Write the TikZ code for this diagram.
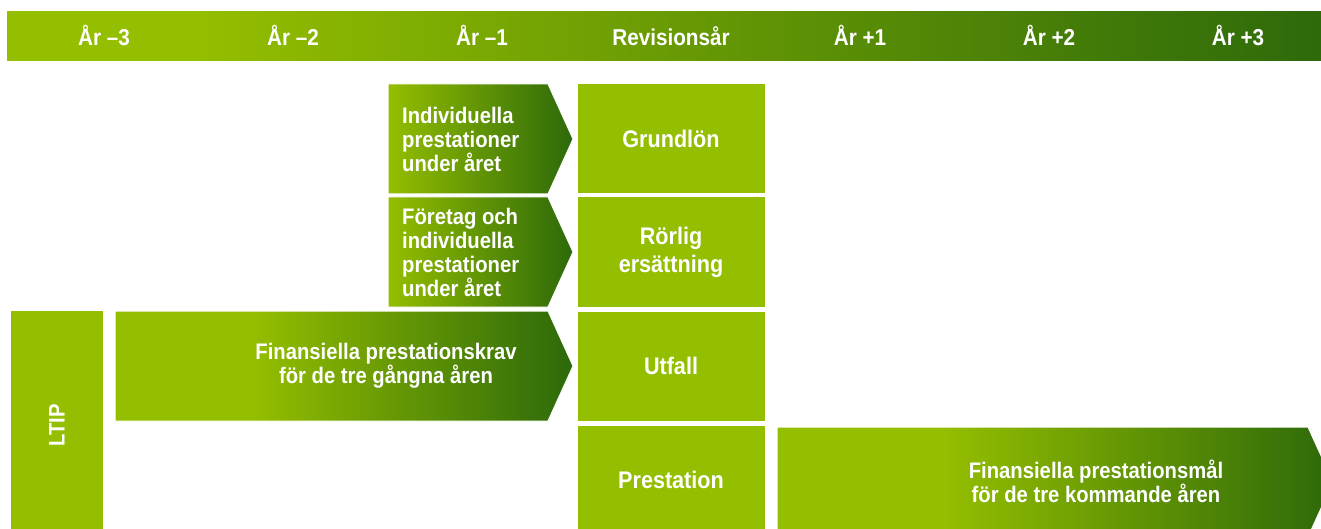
\documentclass[tikz,border=0pt]{standalone}
\usepackage{fontspec}
\newfontfamily\condbf{Liberation Sans}[FakeStretch=0.9]
\usetikzlibrary{positioning}
\definecolor{Lime}{HTML}{94BE00}
\definecolor{Forest}{HTML}{2D690A}
\pgfdeclarehorizontalshading{lateramp}{100bp}{color(0bp)=(Lime); color(25bp)=(Lime); color(40bp)=(Lime); color(75bp)=(Forest); color(100bp)=(Forest)}
\pgfdeclarehorizontalshading{barramp}{100bp}{color(0bp)=(Lime); color(25bp)=(Lime); color(32bp)=(Lime); color(75bp)=(Forest); color(100bp)=(Forest)}
\tikzset{cell/.style={fill=Lime,draw=white,line width=1pt,inner sep=0pt},ramp/.style={left color=Lime,right color=Forest,draw=white,line width=1pt},slowramp/.style={shading=lateramp,draw=white,line width=1pt},lbl/.style={text=white,inner sep=0pt,font=\condbf\bfseries\fontsize{22.5}{24}\selectfont},biglbl/.style={text=white,align=center,font=\condbf\bfseries\fontsize{24}{28}\selectfont},year/.style={lbl,anchor=base,font=\condbf\bfseries\fontsize{23}{26}\selectfont}}

\begin{document}
\begin{tikzpicture}[x=1pt,y=-1pt]
      \clip (0,0) rectangle (1321,529);
      \fill[white] (0,0) rectangle (1321,529);
      % year bar
      \path[shading=barramp] (7,12) rectangle (1330,61);
      \foreach \yr [count=\i from 0] in {År –3,År –2,År –1,Revisionsår,År +1,År +2,År +3}
        \node[year] (yr\i) at (104+189*\i,46) {\yr};
      % revision year column
      \node[cell,biglbl,minimum width=188,minimum height=110] (grund) at (671,139) {Grundlön};
      \node[cell,biglbl,minimum width=188,minimum height=110] (rorlig) at (671,252) {Rörlig\\ersättning};
      \node[cell,biglbl,minimum width=188,minimum height=110] (utfall) at (671,366) {Utfall};
      \node[cell,biglbl,minimum width=188,minimum height=110] (prest) at (671,480) {Prestation};
      % chevrons
      \path[ramp] (388,84) -- (548,84) -- (573,139) -- (548,194) -- (388,194) -- cycle;
      \path[ramp] (388,197) -- (548,197) -- (573,252) -- (548,307) -- (388,307) -- cycle;
      \path[slowramp] (115,311) -- (548,311) -- (573,366) -- (548,421) -- (115,421) -- cycle;
      \path[slowramp] (777,427) -- (1308,427) -- (1333,482) -- (1308,537) -- (777,537) -- cycle;
      \node[lbl,align=left,anchor=west] (indiv) at (402,139) {Individuella\\prestationer\\under året};
      \node[lbl,align=left,anchor=west] (foretag) at (402,252) {Företag och\\individuella\\prestationer\\under året};
      \node[lbl,align=center] (krav) at (386,366) {Finansiella prestationskrav\\för de tre gångna åren};
      \node[lbl,align=center] (mal) at (1096,481) {Finansiella prestationsmål\\för de tre kommande åren};
      % LTIP
      \node[cell,minimum width=93,minimum height=230,anchor=north west] (ltipbox) at (10,310) {};
      \node[lbl,rotate=90] (ltip) at (ltipbox.center) {LTIP};
    \end{tikzpicture}
\end{document}
